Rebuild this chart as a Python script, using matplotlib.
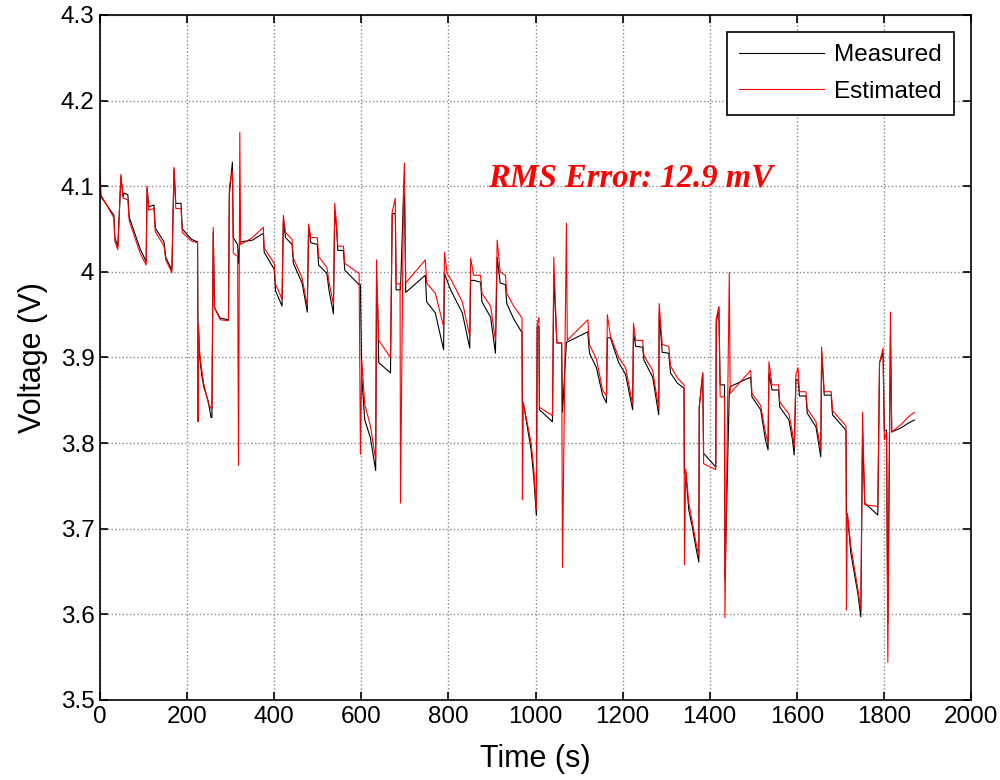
import numpy as np
import matplotlib.pyplot as plt

# time (s), measured voltage (V), estimated voltage (V)
t = [0, 2, 32, 34, 41, 48, 53, 55, 64, 67, 92, 106, 108, 112, 124, 127, 147, 151, 165, 170,
     174, 186, 189, 210, 224, 225, 226, 229, 233, 238, 248, 255, 257, 260, 263, 276, 295, 297,
     304, 306, 316, 318, 321, 323, 350, 375, 377, 400, 403, 418, 421, 426, 441, 444, 464, 476,
     479, 484, 499, 502, 521, 526, 536, 539, 543, 546, 559, 562, 595, 598, 601, 608, 621, 633,
     635, 638, 640, 667, 671, 678, 680, 689, 690, 697, 699, 702, 747, 750, 770, 789, 791, 797,
     805, 832, 849, 851, 858, 874, 877, 897, 908, 912, 919, 931, 934, 950, 969, 970, 972, 990,
     996, 1002, 1004, 1008, 1009, 1039, 1042, 1049, 1060, 1062, 1071, 1073, 1120, 1124, 1140,
     1154, 1163, 1165, 1172, 1191, 1207, 1223, 1225, 1230, 1246, 1249, 1269, 1283, 1284, 1291,
     1306, 1310, 1326, 1341, 1342, 1345, 1352, 1360, 1368, 1375, 1376, 1384, 1386, 1414, 1415,
     1421, 1424, 1434, 1435, 1445, 1447, 1494, 1497, 1517, 1528, 1534, 1536, 1543, 1558, 1561,
     1582, 1590, 1594, 1598, 1603, 1606, 1621, 1624, 1644, 1655, 1657, 1663, 1679, 1682, 1713,
     1714, 1716, 1724, 1732, 1740, 1747, 1751, 1756, 1786, 1790, 1798, 1801, 1806, 1809, 1815,
     1818, 1840, 1855, 1870]
measured = [4.112, 4.088, 4.066, 4.040, 4.030, 4.111, 4.088, 4.092, 4.090, 4.064, 4.027, 4.012,
            4.098, 4.076, 4.078, 4.051, 4.035, 4.017, 4.002, 4.120, 4.080, 4.080, 4.050, 4.038,
            4.035, 3.935, 3.935, 3.900, 3.882, 3.866, 3.850, 3.830, 3.830, 4.046, 3.958, 3.946,
            3.944, 4.090, 4.128, 4.040, 4.032, 4.010, 4.035, 4.035, 4.037, 4.045, 4.023, 4.003,
            3.978, 3.960, 4.060, 4.040, 4.032, 4.010, 3.987, 3.953, 4.052, 4.034, 4.032, 4.008,
            3.998, 3.978, 3.951, 4.070, 4.053, 4.025, 4.025, 4.002, 3.985, 3.985, 3.877, 3.827,
            3.806, 3.768, 3.990, 3.955, 3.894, 3.882, 4.068, 4.068, 3.979, 3.979, 3.979, 4.090,
            4.090, 3.976, 3.996, 3.965, 3.952, 3.909, 3.998, 3.990, 3.979, 3.952, 3.911, 3.990,
            3.990, 3.988, 3.965, 3.947, 3.905, 4.017, 3.987, 3.985, 3.963, 3.945, 3.929, 3.847,
            3.847, 3.792, 3.760, 3.716, 3.936, 3.936, 3.839, 3.825, 3.995, 3.917, 3.917, 3.836,
            3.918, 3.918, 3.930, 3.905, 3.888, 3.856, 3.847, 3.923, 3.923, 3.894, 3.880, 3.839,
            3.929, 3.913, 3.912, 3.897, 3.877, 3.833, 3.952, 3.906, 3.905, 3.882, 3.870, 3.864,
            3.765, 3.765, 3.722, 3.702, 3.679, 3.661, 3.842, 3.882, 3.788, 3.772, 3.940, 3.959,
            3.868, 3.868, 3.640, 3.860, 3.866, 3.877, 3.854, 3.839, 3.804, 3.792, 3.882, 3.862,
            3.862, 3.842, 3.827, 3.804, 3.786, 3.874, 3.874, 3.855, 3.855, 3.835, 3.819, 3.784,
            3.905, 3.856, 3.856, 3.833, 3.815, 3.718, 3.718, 3.672, 3.648, 3.625, 3.597, 3.812,
            3.730, 3.716, 3.894, 3.905, 3.815, 3.815, 3.590, 3.924, 3.813, 3.818, 3.823, 3.827]
estimated = [4.116, 4.090, 4.063, 4.036, 4.026, 4.114, 4.086, 4.086, 4.084, 4.060, 4.022, 4.008,
             4.100, 4.072, 4.074, 4.047, 4.030, 4.014, 3.999, 4.122, 4.074, 4.074, 4.046, 4.036,
             4.034, 3.825, 3.938, 3.904, 3.888, 3.870, 3.848, 3.840, 3.842, 4.052, 3.958, 3.944,
             3.943, 4.100, 4.118, 4.022, 4.018, 3.774, 4.163, 4.032, 4.040, 4.052, 4.028, 4.010,
             3.986, 3.968, 4.066, 4.046, 4.038, 4.016, 3.993, 3.960, 4.056, 4.040, 4.040, 4.018,
             4.005, 3.988, 3.962, 4.080, 4.056, 4.030, 4.030, 4.010, 3.998, 3.787, 3.897, 3.845,
             3.820, 3.780, 4.014, 3.950, 3.920, 3.900, 4.070, 4.086, 3.986, 3.986, 3.730, 4.100,
             4.127, 3.987, 4.014, 3.987, 3.975, 3.936, 4.023, 3.998, 3.992, 3.965, 3.925, 4.016,
             3.996, 3.996, 3.975, 3.960, 3.920, 4.037, 4.000, 3.996, 3.975, 3.960, 3.946, 3.734,
             3.847, 3.800, 3.770, 3.722, 3.940, 3.947, 3.842, 3.832, 4.017, 3.917, 3.917, 3.655,
             4.057, 3.920, 3.944, 3.915, 3.898, 3.862, 3.855, 3.950, 3.925, 3.900, 3.888, 3.845,
             3.940, 3.920, 3.920, 3.902, 3.885, 3.840, 3.963, 3.915, 3.913, 3.890, 3.876, 3.868,
             3.658, 3.770, 3.730, 3.708, 3.685, 3.668, 3.842, 3.882, 3.776, 3.769, 3.945, 3.959,
             3.854, 3.854, 3.596, 3.999, 3.858, 3.885, 3.858, 3.844, 3.812, 3.800, 3.895, 3.868,
             3.868, 3.848, 3.834, 3.812, 3.795, 3.880, 3.888, 3.860, 3.860, 3.840, 3.825, 3.792,
             3.912, 3.860, 3.860, 3.838, 3.820, 3.605, 3.718, 3.680, 3.655, 3.630, 3.605, 3.836,
             3.728, 3.726, 3.894, 3.911, 3.804, 3.812, 3.544, 3.953, 3.813, 3.822, 3.830, 3.836]

rms_text = 'RMS Error: 12.9 mV'

plt.rcParams['font.family'] = ['Liberation Sans', 'DejaVu Sans']

fig = plt.figure(figsize=(10, 7.8), dpi=100)
ax = fig.add_axes([0.1, 0.1026, 0.871, 0.8782])

ax.plot(t, measured, color='black', lw=0.8, label='Measured')
ax.plot(t, estimated, color='red', lw=0.8, label='Estimated')

ax.set_xlim(0, 2000)
ax.set_ylim(3.5, 4.3)
ax.set_xticks(np.arange(0, 2001, 200))
ax.set_yticks(np.arange(3.5, 4.31, 0.1))
ax.set_yticklabels(['3.5', '3.6', '3.7', '3.8', '3.9', '4', '4.1', '4.2', '4.3'])
ax.tick_params(direction='in', top=True, right=True, labelsize=17.5, length=6, width=1.2, pad=4)
ax.grid(True, color='#888888', linestyle=':', linewidth=1)
for s in ax.spines.values():
    s.set_linewidth(1.2)

ax.set_xlabel('Time (s)', fontsize=22, labelpad=12)
ax.set_ylabel('Voltage (V)', fontsize=22, labelpad=9)

ax.text(892, 4.11, rms_text, color='red', fontsize=23.5, fontweight='bold', fontstyle='italic',
        family='Liberation Serif', va='center')

leg = ax.legend(loc='upper right', fontsize=17.5, fancybox=False, framealpha=1,
                edgecolor='black', borderaxespad=0.7, handlelength=3.5, borderpad=0.5,
                labelspacing=0.6, handletextpad=0.4)
leg.get_frame().set_linewidth(1.2)

fig.savefig('out.png', dpi=100)
